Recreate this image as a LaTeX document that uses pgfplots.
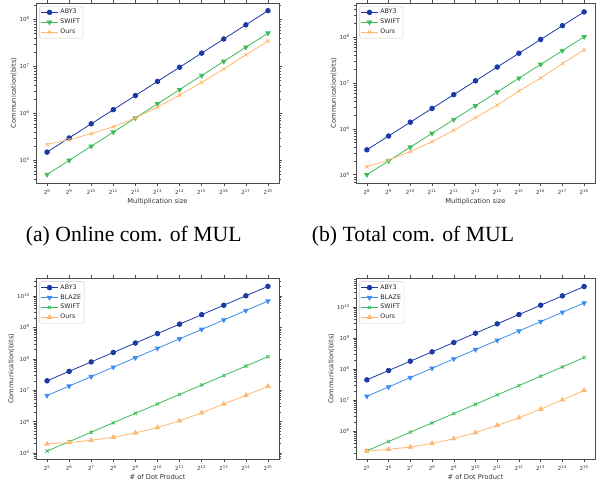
\documentclass[border=0pt]{standalone}
\usepackage{fontspec}
\setmainfont{DejaVu Sans}
\newfontfamily\capfont{Liberation Serif}
\usepackage{pgfplots}
\pgfplotsset{compat=1.18}
\definecolor{caby}{HTML}{1A3BA6}
\definecolor{cblaze}{HTML}{3D8CF0}
\definecolor{cswift}{HTML}{3CBB5A}
\definecolor{cours}{HTML}{FFB870}
\pgfplotsset{
  every axis/.append style={
    scale only axis,
    axis line style={black!70},
    tick align=outside, major tick length=3pt, minor tick length=1.7pt,
    tick style={black!70, line width=0.5pt},
    minor tick style={black!70, line width=0.4pt},
    tick label style={font=\fontsize{5.5}{6.5}\selectfont, text=black!80},
    label style={font=\fontsize{6.7}{8}\selectfont, text=black!80},
    /pgf/number format/assume math mode=true,
    xticklabel={2\textsuperscript{\pgfmathprintnumber{\tick}}},
    ylabel={Communication(bits)},
    ylabel shift=-4pt, xlabel shift=-3pt,
    minor ytick={2e4,3e4,4e4,5e4,6e4,7e4,8e4,9e4,
      2e5,3e5,4e5,5e5,6e5,7e5,8e5,9e5,
      2e6,3e6,4e6,5e6,6e6,7e6,8e6,9e6,
      2e7,3e7,4e7,5e7,6e7,7e7,8e7,9e7,
      2e8,3e8,4e8,5e8,6e8,7e8,8e8,9e8,
      2e9,3e9,4e9,5e9,6e9,7e9,8e9,9e9,
      2e10,3e10,4e10,5e10,6e10,7e10,8e10},
    legend style={at={(0.014,0.983)}, anchor=north west,
      font=\fontsize{6.3}{7.5}\selectfont, draw=black!20, rounded corners=1.5pt,
      inner sep=1pt, row sep=-0.3pt, text=black!85},
    legend cell align=left,
  },
  every axis plot/.append style={line width=0.8pt},
}
\tikzset{
  aby/.style={color=caby, mark=*, mark size=2.3pt},
  blaze/.style={color=cblaze, mark=triangle*, mark size=2.5pt, mark options={rotate=180}},
  swiftd/.style={color=cswift, mark=triangle*, mark size=2.5pt, mark options={rotate=180}},
  swiftx/.style={color=cswift, mark=x, mark size=2.3pt},
  oursx/.style={color=cours, mark=x, mark size=2.3pt},
  ourst/.style={color=cours, mark=triangle*, mark size=2.5pt},
}
\begin{document}
\begin{tikzpicture}
\useasboundingbox (0pt,0pt) rectangle (596pt,-486pt);
% (a)
\begin{axis}[ymode=log, at={(36pt,-3pt)}, anchor=north west, width=243pt, height=180pt,
  xmin=7.5, xmax=18.5, ymin=3.3e4, ymax=2.24e8, xtick={8,...,18},
  ytick={1e5,1e6,1e7,1e8}, yticklabels={10\textsuperscript{5},10\textsuperscript{6},10\textsuperscript{7},10\textsuperscript{8}},
  xlabel={Multiplication size}]
\addplot[aby] coordinates {(8,1.5e5)(9,3e5)(10,6e5)(11,1.2e6)(12,2.4e6)(13,4.8e6)(14,9.6e6)(15,1.92e7)(16,3.84e7)(17,7.68e7)(18,1.536e8)};
\addlegendentry{ABY3}
\addplot[swiftd] coordinates {(8,5e4)(9,1e5)(10,2e5)(11,4e5)(12,8e5)(13,1.6e6)(14,3.2e6)(15,6.4e6)(16,1.28e7)(17,2.56e7)(18,5.12e7)};
\addlegendentry{SWIFT}
\addplot[oursx] coordinates {(8,2.19e5)(9,2.75e5)(10,3.7e5)(11,5.2e5)(12,8.05e5)(13,1.36e6)(14,2.45e6)(15,4.57e6)(16,8.77e6)(17,1.77e7)(18,3.45e7)};
\addlegendentry{Ours}
\end{axis}
% (b)
\begin{axis}[ymode=log, at={(356pt,-3pt)}, anchor=north west, width=239pt, height=180pt,
  xmin=7.5, xmax=18.5, ymin=6.6e4, ymax=5.6e8, xtick={8,...,18},
  ytick={1e5,1e6,1e7,1e8}, yticklabels={10\textsuperscript{5},10\textsuperscript{6},10\textsuperscript{7},10\textsuperscript{8}},
  xlabel={Multiplication size}]
\addplot[aby] coordinates {(8,3.5e5)(9,7e5)(10,1.4e6)(11,2.8e6)(12,5.6e6)(13,1.12e7)(14,2.24e7)(15,4.48e7)(16,8.96e7)(17,1.79e8)(18,3.58e8)};
\addlegendentry{ABY3}
\addplot[swiftd] coordinates {(8,1e5)(9,2e5)(10,4e5)(11,8e5)(12,1.6e6)(13,3.2e6)(14,6.4e6)(15,1.28e7)(16,2.56e7)(17,5.12e7)(18,1.024e8)};
\addlegendentry{SWIFT}
\addplot[oursx] coordinates {(8,1.5e5)(9,2.09e5)(10,3.2e5)(11,5.25e5)(12,9.3e5)(13,1.76e6)(14,3.3e6)(15,6.7e6)(16,1.29e7)(17,2.67e7)(18,5.3e7)};
\addlegendentry{Ours}
\end{axis}
% (c)
\begin{axis}[ymode=log, at={(36pt,-278.3pt)}, anchor=north west, width=243pt, height=181pt,
  xmin=4.5, xmax=15.5, ymin=6.3e4, ymax=3.7e10, xtick={5,...,15},
  ytick={1e5,1e6,1e7,1e8,1e9,1e10}, yticklabels={10\textsuperscript{5},10\textsuperscript{6},10\textsuperscript{7},10\textsuperscript{8},10\textsuperscript{9},10\textsuperscript{10}},
  xlabel={\# of Dot Product}]
\addplot[aby] coordinates {(5,2e7)(6,4e7)(7,8e7)(8,1.6e8)(9,3.2e8)(10,6.4e8)(11,1.28e9)(12,2.56e9)(13,5.12e9)(14,1.024e10)(15,2.048e10)};
\addlegendentry{ABY3}
\addplot[blaze] coordinates {(5,6.8e6)(6,1.36e7)(7,2.72e7)(8,5.44e7)(9,1.088e8)(10,2.176e8)(11,4.352e8)(12,8.704e8)(13,1.741e9)(14,3.482e9)(15,6.963e9)};
\addlegendentry{BLAZE}
\addplot[swiftx] coordinates {(5,1.15e5)(6,2.3e5)(7,4.6e5)(8,9.2e5)(9,1.84e6)(10,3.68e6)(11,7.36e6)(12,1.472e7)(13,2.944e7)(14,5.888e7)(15,1.178e8)};
\addlegendentry{SWIFT}
\addplot[ourst] coordinates {(5,1.94e5)(6,2.15e5)(7,2.55e5)(8,3.18e5)(9,4.37e5)(10,6.5e5)(11,1.06e6)(12,1.91e6)(13,3.63e6)(14,6.9e6)(15,1.34e7)};
\addlegendentry{Ours}
\end{axis}
% (d)
\begin{axis}[ymode=log, at={(356pt,-278.3pt)}, anchor=north west, width=239pt, height=181pt,
  xmin=4.5, xmax=15.5, ymin=1.23e5, ymax=8.5e10, xtick={5,...,15},
  ytick={1e6,1e7,1e8,1e9,1e10}, yticklabels={10\textsuperscript{6},10\textsuperscript{7},10\textsuperscript{8},10\textsuperscript{9},10\textsuperscript{10}},
  xlabel={\# of Dot Product}]
\addplot[aby] coordinates {(5,4.5e7)(6,9e7)(7,1.8e8)(8,3.6e8)(9,7.2e8)(10,1.44e9)(11,2.88e9)(12,5.76e9)(13,1.152e10)(14,2.304e10)(15,4.608e10)};
\addlegendentry{ABY3}
\addplot[blaze] coordinates {(5,1.33e7)(6,2.66e7)(7,5.32e7)(8,1.064e8)(9,2.128e8)(10,4.256e8)(11,8.512e8)(12,1.702e9)(13,3.405e9)(14,6.81e9)(15,1.362e10)};
\addlegendentry{BLAZE}
\addplot[swiftx] coordinates {(5,2.3e5)(6,4.6e5)(7,9.2e5)(8,1.84e6)(9,3.68e6)(10,7.36e6)(11,1.472e7)(12,2.944e7)(13,5.888e7)(14,1.178e8)(15,2.355e8)};
\addlegendentry{SWIFT}
\addplot[ourst] coordinates {(5,2.27e5)(6,2.57e5)(7,3.05e5)(8,4.0e5)(9,5.7e5)(10,8.9e5)(11,1.53e6)(12,2.7e6)(13,5.1e6)(14,1.02e7)(15,2.06e7)};
\addlegendentry{Ours}
\end{axis}
\node[anchor=base, font=\capfont\fontsize{21.7}{24}\selectfont] at (133.7pt,-241pt) {(a) Online com. of MUL};
\node[anchor=base, font=\capfont\fontsize{21.7}{24}\selectfont] at (413pt,-241pt) {(b) Total com. of MUL};
\end{tikzpicture}
\end{document}
